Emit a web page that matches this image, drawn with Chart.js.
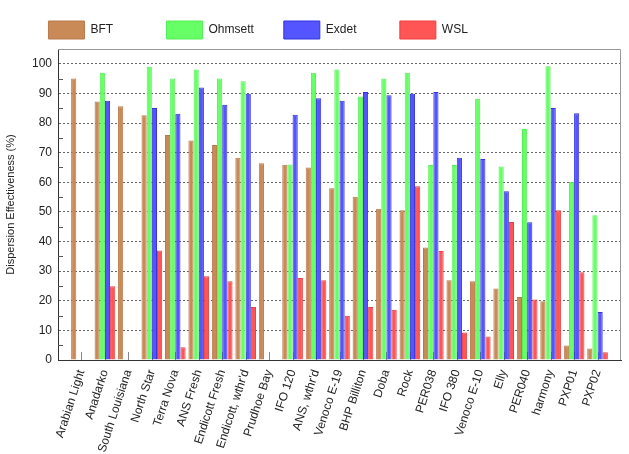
<!DOCTYPE html>
<html>
<head>
<meta charset="utf-8">
<script src="https://cdn.jsdelivr.net/npm/chart.js@4/dist/chart.umd.min.js"></script>
<style>
  body { margin: 0; background: #fff; }
  #wrap { width: 629px; height: 454px; position: relative; }
</style>
</head>
<body>
<div id="wrap"><canvas id="dispChart"></canvas></div>
<script>
// oils tested
const oils = ['Arabian Light', 'Anadarko', 'South Louisiana', 'North Star', 'Terra Nova', 'ANS Fresh',
  'Endicott Fresh', "Endicott, wthr'd", 'Prudhoe Bay', 'IFO 120', "ANS, wthr'd", 'Venoco E-19',
  'BHP Billiton', 'Doba', 'Rock', 'PER038', 'IFO 380', 'Venoco E-10', 'Elly', 'PER040',
  'harmony', 'PXP01', 'PXP02'];

// dispersion effectiveness (%) per test method, null = not tested
const bft = [95, 87.3, 85.7, 82.6, 76.0, 74.1, 72.6, 68.3, 66.4, 65.9, 65.0, 58.0,
  55.1, 51.1, 50.6, 38.0, 26.9, 26.6, 24.1, 21.3, 19.8, 4.9, 3.9];
const ohmsett = [null, 97.0, null, 99.0, 95.0, 98.1, 95.0, 94.1, null, 66.0, 97.0, 98.1,
  89.0, 95.0, 97.0, 65.8, 65.8, 88.2, 65.3, 78.0, 99.2, 60.2, 48.9];
const exdet = [null, 87.5, null, 85.1, 83.1, 92.0, 86.2, 89.9, null, 82.8, 88.4, 87.5,
  90.5, 89.4, 89.9, 90.5, 68.3, 67.9, 57.0, 46.5, 85.1, 83.3, 16.2];
const wsl = [null, 24.9, null, 37.0, 4.3, 28.3, 26.6, 17.9, null, 27.7, 26.9, 14.9,
  17.9, 17.0, 58.7, 36.8, 9.3, 7.9, 46.6, 20.4, 50.6, 29.6, 2.6];

const yMin = 0, yMax = 105, yStep = 10;

Chart.defaults.font.family = '"Liberation Sans", Arial, sans-serif';
Chart.defaults.font.size = 12;
Chart.defaults.color = '#222';

// empty slot at each end, so the bars do not touch the frame
const pad = arr => [null, ...arr, null];

// inward tick marks and the light frame around the plot
const framePlugin = {
  id: 'frame',
  beforeDatasetsDraw(chart) {
    const { ctx, chartArea: a, scales: { x, y } } = chart;
    ctx.save();
    ctx.lineWidth = 1;
    ctx.strokeStyle = '#888';
    ctx.beginPath();
    for (let i = 1; i < x.ticks.length - 1; i++) {
      const px = Math.round(x.getPixelForTick(i)) + 0.5;
      ctx.moveTo(px, a.bottom);
      ctx.lineTo(px, a.bottom - 8);
    }
    ctx.stroke();
    ctx.strokeStyle = '#555';
    ctx.beginPath();
    for (let v = yMin + yStep / 2; v < yMax; v += yStep) {
      const py = Math.round(y.getPixelForValue(v)) + 0.5;
      ctx.moveTo(a.left, py);
      ctx.lineTo(a.left + 5, py);
    }
    ctx.stroke();
    ctx.restore();
  },
  afterDraw(chart) {
    const { ctx, chartArea: a } = chart;
    ctx.save();
    ctx.strokeStyle = '#999';
    ctx.lineWidth = 1;
    ctx.beginPath();
    ctx.moveTo(a.left, a.top + 0.5);
    ctx.lineTo(a.right - 0.5, a.top + 0.5);
    ctx.lineTo(a.right - 0.5, a.bottom);
    ctx.stroke();
    ctx.restore();
  }
};

function makeSet(label, data, fill, edge) {
  return {
    label: label,
    data: pad(data),
    backgroundColor: fill,
    borderColor: edge,
    borderWidth: 1,
    categoryPercentage: 0.88,
    barPercentage: 1.0
  };
}

new Chart(document.getElementById('dispChart'), {
  type: 'bar',
  data: {
    labels: pad(oils).map(l => l === null ? '' : l),
    datasets: [
      makeSet('BFT', bft, '#c98a58', '#b97a4a'),
      makeSet('Ohmsett', ohmsett, '#66ff66', '#55ee55'),
      makeSet('Exdet', exdet, '#5555ff', '#3333dd'),
      makeSet('WSL', wsl, '#ff5555', '#ee3f3f')
    ]
  },
  plugins: [framePlugin],
  options: {
    responsive: true,
    maintainAspectRatio: false,
    animation: false,
    layout: { padding: { top: 11, left: 2, right: 8, bottom: 0 } },
    plugins: {
      tooltip: { enabled: false },
      legend: {
        position: 'top',
        labels: {
          boxWidth: 36,
          boxHeight: 18,
          padding: 10,
          color: '#222',
          font: { size: 12 },
          // equal-width entries so they sit on an even spacing like the original
          generateLabels(chart) {
            const items = Chart.defaults.plugins.legend.labels.generateLabels(chart);
            const ctx = chart.ctx;
            ctx.save();
            ctx.font = '12px "Liberation Sans", Arial, sans-serif';
            items.forEach((it, i) => {
              const want = i === items.length - 1 ? 131 : 64;
              while (ctx.measureText(it.text).width < want) it.text += ' ';
            });
            ctx.restore();
            return items;
          }
        }
      }
    },
    scales: {
      x: {
        offset: false,
        grid: { display: false },
        border: { display: true, color: '#333', width: 1 },
        ticks: {
          autoSkip: false,
          maxRotation: 72,
          minRotation: 72,
          padding: 0,
          color: '#222',
          font: { size: 12 }
        },
        afterFit(scale) {
          scale.height = 94;
          scale.paddingLeft = 0;
          scale.paddingRight = 0;
        }
      },
      y: {
        min: yMin,
        max: yMax,
        grid: { color: '#666', drawTicks: false, lineWidth: 1 },
        border: { display: true, color: '#333', width: 1, dash: [2, 2] },
        ticks: { stepSize: yStep, includeBounds: false, padding: 6, color: '#222', font: { size: 12 } },
        title: {
          display: true,
          text: 'Dispersion Effectiveness (%)',
          color: '#222',
          font: { size: 11 },
          padding: { top: 2, bottom: 2 }
        },
        afterFit(scale) { scale.width = 56; }
      }
    }
  }
});
</script>
</body>
</html>
